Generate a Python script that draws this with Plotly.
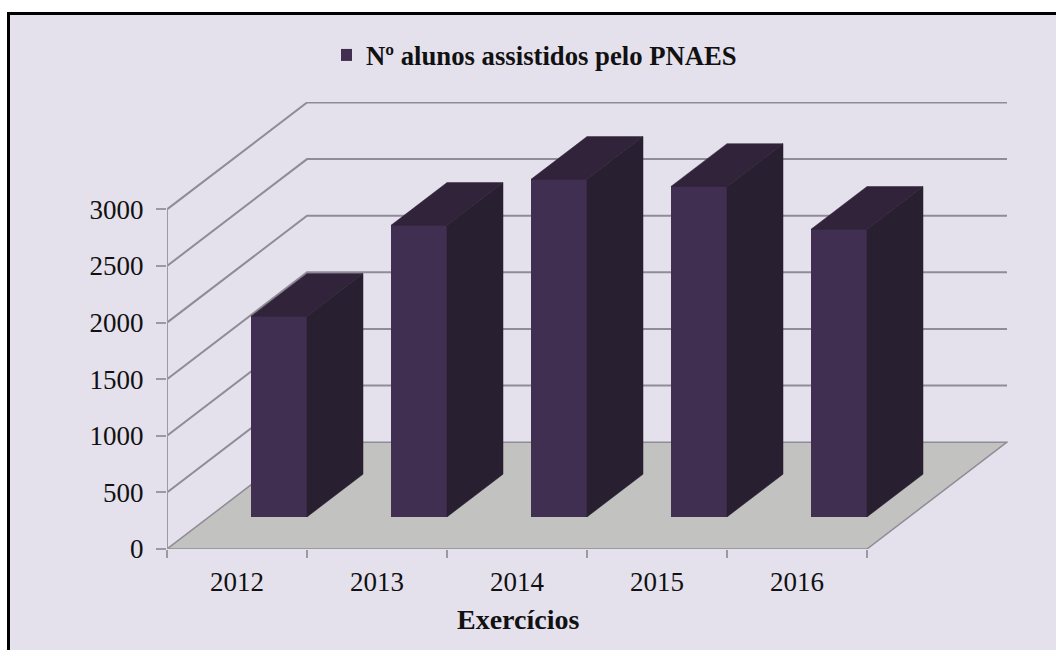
import plotly.graph_objects as go

categories = ["2012", "2013", "2014", "2015", "2016"]
values = [1773, 2576, 2982, 2920, 2541]
y_ticks = [0, 500, 1000, 1500, 2000, 2500, 3000]
series_name = "Nº alunos assistidos pelo PNAES"
x_title = "Exercícios"

W, H = 1056, 650
L, R, T, B = 167, 48, 102, 100.5
DX, DY = 1.0, 944.0          # full depth of the pseudo-3D box, in axis units
Z0, Z1 = 0.3, 0.7            # depth span of a bar
BAR_W = 0.4
N = len(categories)

FRONT, SIDE, TOP = "#402F50", "#281F30", "#30233A"
FLOOR, GRID, AXIS, BG = "#C2C2C0", "#8F8B97", "#9A9AA2", "#E4E0EC"
TXT = "#111111"
SERIF = "Liberation Serif"

pw, ph = W - L - R, H - T - B
px = lambda v: (v - L) / pw
py = lambda v: 1 - (v - T) / ph

shapes = [
    dict(type="rect", xref="paper", yref="paper", x0=px(8.5), x1=px(1070), y0=py(13.5), y1=py(670),
         fillcolor=BG, line=dict(color="#000000", width=3), layer="below"),
    dict(type="path", xref="x", yref="y", layer="below", fillcolor=FLOOR,
         line=dict(color=GRID, width=1.5),
         path=f"M0,0 L{DX},{DY} L{N + DX},{DY} L{N},0 Z"),
]
for t in y_ticks[1:]:
    shapes.append(dict(type="path", xref="x", yref="y", layer="below",
                       line=dict(color=GRID, width=2),
                       path=f"M0,{t} L{DX},{t + DY} L{N + DX},{t + DY}"))
shapes.append(dict(type="line", xref="x", yref="y", layer="below", x0=0, x1=0, y0=0, y1=y_ticks[-1],
                   line=dict(color=AXIS, width=2)))
shapes.append(dict(type="line", xref="x", yref="y", layer="below", x0=0, x1=N, y0=0, y1=0,
                   line=dict(color=AXIS, width=2)))

fig = go.Figure()
xs = [i + 0.5 + Z0 * DX for i in range(N)]
base = Z0 * DY
d = (Z1 - Z0)
fig.add_bar(x=xs, y=values, base=base, width=BAR_W, name=series_name, marker=dict(color=FRONT, line=dict(width=0)),
            showlegend=True, hovertemplate="%{y}<extra></extra>")

for x, v in zip(xs, values):
    xl, xr = x - BAR_W / 2, x + BAR_W / 2
    top = base + v
    fig.add_scatter(x=[xl, xr, xr + d * DX, xl + d * DX, xl], y=[top, top, top + d * DY, top + d * DY, top],
                    mode="lines", fill="toself", fillcolor=TOP, line=dict(width=0.5, color=TOP), showlegend=False, hoverinfo="skip")
    fig.add_scatter(x=[xr, xr + d * DX, xr + d * DX, xr, xr], y=[base, base + d * DY, top + d * DY, top, base],
                    mode="lines", fill="toself", fillcolor=SIDE, line=dict(width=0.5, color=SIDE), showlegend=False, hoverinfo="skip")

fig.update_layout(
    width=W, height=H, autosize=False,
    margin=dict(l=L, r=R, t=T, b=B, pad=0),
    paper_bgcolor="#FFFFFF", plot_bgcolor="rgba(0,0,0,0)",
    shapes=shapes,
    font=dict(family=SERIF, color=TXT, size=27),
    bargap=0,
    legend=dict(x=px(341), y=py(31), xanchor="left", yanchor="top", orientation="h", indentation=-15,
                bgcolor="rgba(0,0,0,0)", font=dict(family=SERIF, size=26.7, weight="bold", color=TXT), borderwidth=0),
    xaxis=dict(range=[0, pw / 140], tickmode="array", tickvals=[i + 0.5 for i in range(N)], ticktext=categories,
               ticks="", showgrid=False, zeroline=False, showline=False, tickfont=dict(size=27, family=SERIF),
               ticklabelstandoff=14,
               minor=dict(tickmode="array", tickvals=list(range(N + 1)), ticks="outside", ticklen=8, tickcolor=AXIS, tickwidth=1.5, showgrid=False)),
    yaxis=dict(range=[0, ph / (340 / 3000)], tickmode="array", tickvals=y_ticks, ticks="outside", ticklen=10,
               tickcolor=AXIS, tickwidth=1.5, showgrid=False, zeroline=False, showline=False,
               ticklabelstandoff=7, tickfont=dict(size=27, family=SERIF)),
    annotations=[dict(text=f"<b>{x_title}</b>", xref="paper", yref="paper", x=px(517.5), y=py(620),
                      xanchor="center", yanchor="middle", showarrow=False, font=dict(size=28, family=SERIF, color=TXT))],
)

fig.write_html("out.html", config=dict(displayModeBar=False),
               post_script="document.body.style.margin='0';document.documentElement.style.overflow='hidden';")
